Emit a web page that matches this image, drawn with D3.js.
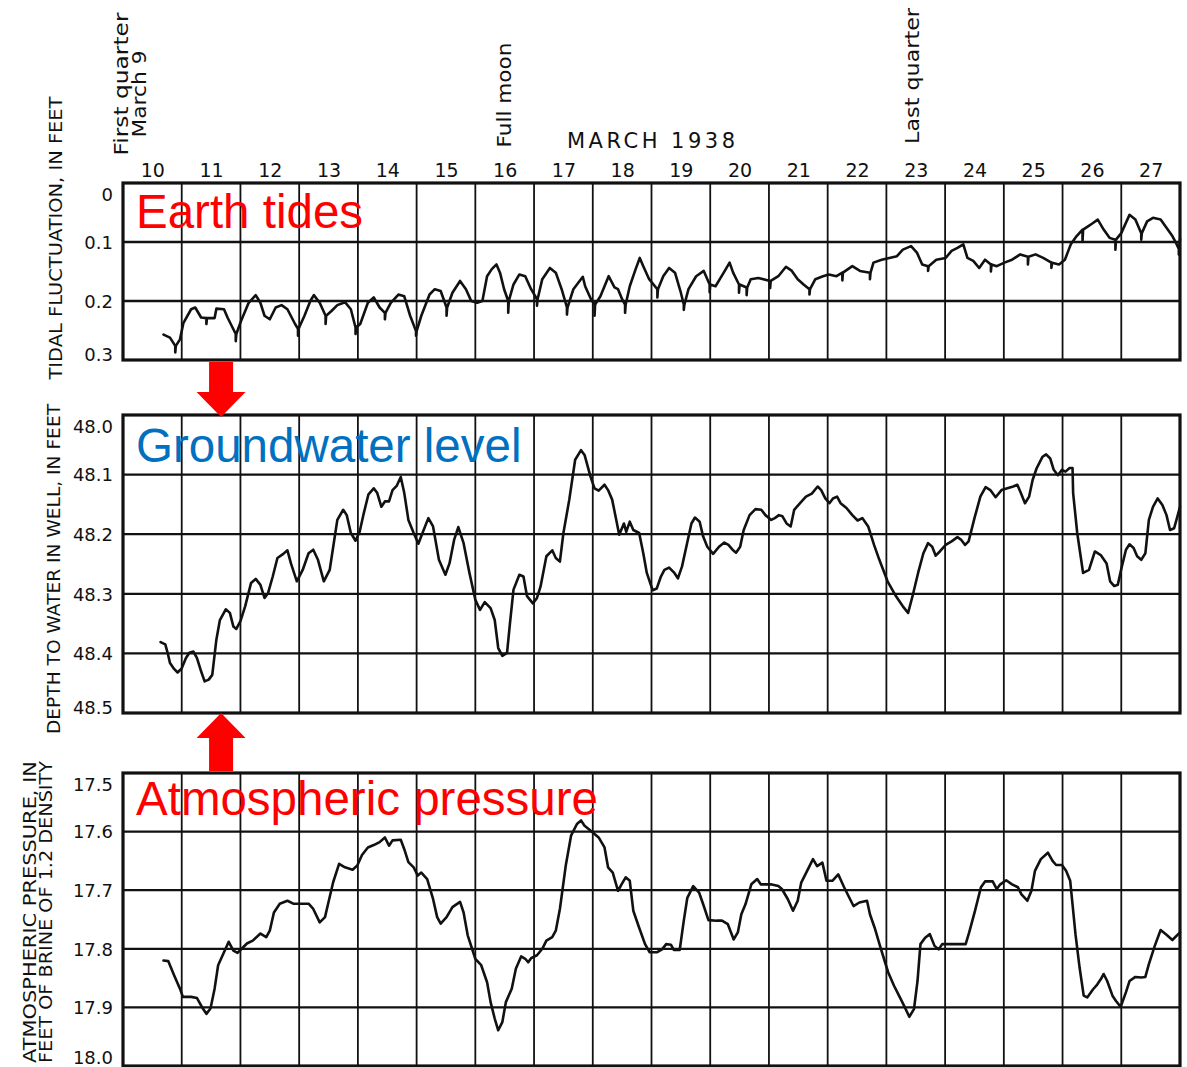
<!DOCTYPE html>
<html>
<head>
<meta charset="utf-8">
<script src="https://cdn.jsdelivr.net/npm/d3@7"></script>
<style>
  html, body { margin: 0; padding: 0; background: #fff; }
  svg { display: block; }
  .num { font-family: "DejaVu Sans", sans-serif; fill: #111; }
  .cap { font-family: "DejaVu Sans", sans-serif; fill: #111; }
  .over { font-family: "Liberation Sans", Arial, sans-serif; }
</style>
</head>
<body>
<script>
// ---- Days of March 1938 shown on the record ----
const days = [10, 11, 12, 13, 14, 15, 16, 17, 18, 19, 20, 21, 22, 23, 24, 25, 26, 27];
const dayLabels = days.map(String);

// ---- Moon phases (day position, text lines) ----
const moonPhases = [
  { day: 10.0, lines: ["First quarter", "March 9"] },
  { day: 16.47, lines: ["Full moon"] },
  { day: 23.45, lines: ["Last quarter"] }
];

// ---- Axis ticks ----
const tideTicks = [0, 0.1, 0.2, 0.3];
const tideTickLabels = ["0", "0.1", "0.2", "0.3"];
const wellTicks = [48.0, 48.1, 48.2, 48.3, 48.4, 48.5];
const wellTickLabels = ["48.0", "48.1", "48.2", "48.3", "48.4", "48.5"];
const pressTicks = [17.5, 17.6, 17.7, 17.8, 17.9, 18.0];
const pressTickLabels = ["17.5", "17.6", "17.7", "17.8", "17.9", "18.0"];

// ---- Tidal fluctuation, feet [day, value] (short vertical strokes are time marks) ----
const tideSeries = [
[10.69,0.257],[10.80,0.262],[10.89,0.276],[10.89,0.287],[10.90,0.276],[10.97,0.265],[11.03,0.237],[11.16,0.214],[11.23,0.211],[11.33,0.228],[11.42,0.229],[11.42,0.239],[11.43,0.229],[11.56,0.229],[11.59,0.213],[11.72,0.214],[11.78,0.228],[11.85,0.242],[11.92,0.256],[11.92,0.268],[11.93,0.256],[12.01,0.234],[12.14,0.203],[12.26,0.190],[12.34,0.203],[12.41,0.225],[12.50,0.231],[12.60,0.211],[12.70,0.207],[12.80,0.214],[12.93,0.239],[12.98,0.247],[12.98,0.259],[12.99,0.247],[13.09,0.225],[13.19,0.200],[13.25,0.190],[13.35,0.203],[13.45,0.225],[13.45,0.239],[13.46,0.225],[13.55,0.217],[13.65,0.207],[13.78,0.202],[13.88,0.214],[13.96,0.245],[13.96,0.256],[13.97,0.245],[14.04,0.239],[14.17,0.203],[14.27,0.194],[14.37,0.211],[14.46,0.220],[14.46,0.231],[14.47,0.220],[14.56,0.203],[14.69,0.189],[14.79,0.192],[14.89,0.225],[14.99,0.251],[14.99,0.259],[15.00,0.251],[15.08,0.225],[15.22,0.189],[15.31,0.180],[15.41,0.183],[15.51,0.211],[15.51,0.225],[15.52,0.211],[15.61,0.186],[15.74,0.166],[15.84,0.180],[15.93,0.200],[16.03,0.203],[16.12,0.200],[16.20,0.158],[16.28,0.146],[16.36,0.138],[16.42,0.152],[16.49,0.180],[16.56,0.200],[16.56,0.220],[16.57,0.200],[16.65,0.172],[16.75,0.155],[16.85,0.158],[16.95,0.180],[17.05,0.197],[17.05,0.208],[17.06,0.197],[17.14,0.163],[17.27,0.144],[17.37,0.152],[17.47,0.180],[17.56,0.211],[17.56,0.223],[17.57,0.211],[17.67,0.180],[17.83,0.159],[17.87,0.175],[17.97,0.197],[18.03,0.206],[18.03,0.225],[18.04,0.206],[18.13,0.192],[18.27,0.158],[18.37,0.177],[18.43,0.180],[18.50,0.197],[18.55,0.206],[18.55,0.220],[18.56,0.206],[18.63,0.175],[18.73,0.146],[18.80,0.127],[18.86,0.141],[18.96,0.163],[19.10,0.180],[19.10,0.194],[19.11,0.180],[19.20,0.158],[19.30,0.144],[19.40,0.152],[19.50,0.186],[19.55,0.206],[19.55,0.215],[19.56,0.206],[19.63,0.180],[19.76,0.158],[19.89,0.149],[19.99,0.172],[19.99,0.185],[20.00,0.172],[20.09,0.175],[20.23,0.152],[20.33,0.135],[20.39,0.152],[20.49,0.172],[20.49,0.186],[20.50,0.172],[20.62,0.177],[20.62,0.190],[20.63,0.177],[20.69,0.163],[20.82,0.161],[21.02,0.166],[21.02,0.178],[21.03,0.166],[21.16,0.158],[21.29,0.142],[21.39,0.149],[21.49,0.163],[21.59,0.172],[21.69,0.180],[21.69,0.189],[21.70,0.180],[21.79,0.163],[21.92,0.158],[22.02,0.155],[22.15,0.158],[22.25,0.152],[22.25,0.165],[22.26,0.152],[22.42,0.141],[22.55,0.149],[22.72,0.152],[22.72,0.163],[22.73,0.152],[22.78,0.135],[22.92,0.130],[23.05,0.127],[23.18,0.124],[23.28,0.113],[23.42,0.107],[23.52,0.118],[23.61,0.138],[23.71,0.141],[23.71,0.149],[23.72,0.141],[23.85,0.130],[24.01,0.127],[24.11,0.115],[24.21,0.110],[24.31,0.104],[24.38,0.127],[24.48,0.132],[24.58,0.144],[24.68,0.130],[24.78,0.138],[24.78,0.150],[24.79,0.138],[24.88,0.141],[25.01,0.135],[25.14,0.130],[25.28,0.121],[25.41,0.125],[25.41,0.138],[25.42,0.125],[25.54,0.121],[25.67,0.127],[25.81,0.135],[25.81,0.144],[25.82,0.135],[25.94,0.138],[26.04,0.130],[26.14,0.104],[26.24,0.090],[26.34,0.079],[26.34,0.099],[26.35,0.079],[26.44,0.073],[26.50,0.069],[26.60,0.062],[26.70,0.079],[26.80,0.093],[26.90,0.096],[26.90,0.113],[26.91,0.096],[27.00,0.085],[27.14,0.054],[27.24,0.062],[27.34,0.085],[27.34,0.096],[27.35,0.085],[27.44,0.065],[27.54,0.059],[27.67,0.062],[27.77,0.076],[27.87,0.090],[27.93,0.101],[27.98,0.112],[27.98,0.121],[28.00,0.095]
];

// ---- Depth to water in well, feet [day, value] ----
const wellSeries = [
[10.64,48.381],[10.72,48.385],[10.76,48.399],[10.80,48.416],[10.87,48.426],[10.93,48.432],[11.00,48.425],[11.07,48.408],[11.13,48.399],[11.20,48.397],[11.26,48.408],[11.33,48.430],[11.39,48.447],[11.46,48.444],[11.52,48.436],[11.59,48.377],[11.65,48.344],[11.75,48.326],[11.82,48.332],[11.88,48.355],[11.93,48.359],[12.00,48.346],[12.08,48.321],[12.18,48.282],[12.26,48.275],[12.34,48.285],[12.41,48.307],[12.47,48.299],[12.55,48.271],[12.63,48.240],[12.73,48.233],[12.80,48.227],[12.86,48.249],[12.96,48.279],[13.06,48.260],[13.16,48.232],[13.24,48.226],[13.32,48.243],[13.42,48.279],[13.52,48.260],[13.58,48.221],[13.65,48.176],[13.75,48.159],[13.81,48.168],[13.88,48.198],[13.96,48.211],[14.03,48.196],[14.10,48.165],[14.18,48.133],[14.27,48.123],[14.33,48.131],[14.40,48.154],[14.46,48.145],[14.53,48.145],[14.59,48.126],[14.66,48.119],[14.73,48.104],[14.79,48.131],[14.86,48.176],[14.95,48.198],[15.03,48.216],[15.12,48.193],[15.20,48.173],[15.28,48.187],[15.38,48.243],[15.49,48.268],[15.56,48.249],[15.64,48.209],[15.71,48.188],[15.80,48.215],[15.90,48.265],[16.00,48.310],[16.08,48.327],[16.16,48.314],[16.26,48.324],[16.33,48.344],[16.39,48.391],[16.46,48.404],[16.54,48.399],[16.59,48.349],[16.65,48.293],[16.75,48.268],[16.82,48.271],[16.88,48.304],[16.98,48.316],[17.05,48.307],[17.11,48.288],[17.21,48.237],[17.31,48.227],[17.37,48.240],[17.44,48.246],[17.50,48.198],[17.60,48.142],[17.70,48.075],[17.80,48.059],[17.86,48.067],[17.96,48.103],[18.03,48.123],[18.10,48.127],[18.20,48.117],[18.26,48.126],[18.33,48.142],[18.40,48.176],[18.45,48.201],[18.53,48.182],[18.57,48.196],[18.63,48.179],[18.69,48.193],[18.79,48.198],[18.86,48.232],[18.92,48.265],[19.02,48.294],[19.09,48.291],[19.16,48.271],[19.22,48.260],[19.30,48.256],[19.39,48.265],[19.45,48.274],[19.52,48.254],[19.62,48.209],[19.68,48.182],[19.74,48.172],[19.82,48.179],[19.88,48.204],[19.95,48.221],[20.05,48.233],[20.15,48.221],[20.24,48.214],[20.31,48.218],[20.38,48.226],[20.44,48.231],[20.51,48.221],[20.57,48.193],[20.67,48.168],[20.77,48.158],[20.87,48.159],[20.94,48.168],[21.04,48.176],[21.10,48.173],[21.17,48.168],[21.23,48.170],[21.30,48.182],[21.37,48.187],[21.43,48.159],[21.53,48.148],[21.63,48.137],[21.73,48.132],[21.83,48.120],[21.89,48.126],[21.96,48.140],[22.03,48.148],[22.09,48.140],[22.16,48.137],[22.22,48.148],[22.32,48.156],[22.42,48.168],[22.51,48.177],[22.59,48.173],[22.69,48.187],[22.79,48.218],[22.88,48.243],[23.02,48.279],[23.15,48.302],[23.28,48.321],[23.37,48.332],[23.45,48.302],[23.54,48.265],[23.63,48.232],[23.71,48.215],[23.78,48.221],[23.84,48.236],[23.91,48.229],[24.01,48.218],[24.11,48.212],[24.21,48.205],[24.27,48.209],[24.34,48.218],[24.40,48.212],[24.50,48.173],[24.60,48.137],[24.69,48.121],[24.77,48.126],[24.86,48.138],[24.96,48.126],[25.06,48.123],[25.16,48.120],[25.23,48.117],[25.29,48.131],[25.36,48.148],[25.43,48.137],[25.49,48.109],[25.56,48.089],[25.66,48.070],[25.72,48.066],[25.79,48.073],[25.85,48.092],[25.92,48.101],[25.99,48.092],[26.05,48.095],[26.12,48.089],[26.17,48.089],[26.18,48.131],[26.25,48.198],[26.35,48.265],[26.45,48.260],[26.55,48.229],[26.65,48.235],[26.75,48.249],[26.81,48.279],[26.88,48.287],[26.94,48.285],[27.01,48.254],[27.08,48.226],[27.14,48.217],[27.21,48.223],[27.27,48.237],[27.34,48.243],[27.41,48.232],[27.47,48.176],[27.54,48.154],[27.62,48.140],[27.70,48.151],[27.77,48.168],[27.83,48.193],[27.90,48.190],[27.97,48.165],[28.00,48.154]
];

// ---- Atmospheric pressure, feet of brine of 1.2 density [day, value] ----
const pressureSeries = [
[10.69,17.820],[10.77,17.821],[10.87,17.845],[10.97,17.868],[11.02,17.882],[11.16,17.882],[11.26,17.884],[11.36,17.902],[11.42,17.911],[11.49,17.902],[11.56,17.868],[11.62,17.828],[11.72,17.806],[11.80,17.788],[11.88,17.803],[11.95,17.807],[12.03,17.799],[12.11,17.791],[12.21,17.786],[12.34,17.774],[12.44,17.780],[12.50,17.769],[12.57,17.738],[12.67,17.723],[12.80,17.718],[12.90,17.723],[13.03,17.723],[13.16,17.723],[13.24,17.732],[13.35,17.755],[13.44,17.746],[13.50,17.720],[13.58,17.686],[13.68,17.655],[13.78,17.661],[13.91,17.665],[13.99,17.658],[14.07,17.640],[14.17,17.627],[14.27,17.623],[14.37,17.618],[14.46,17.610],[14.53,17.624],[14.59,17.615],[14.73,17.614],[14.79,17.630],[14.86,17.652],[14.95,17.661],[15.02,17.675],[15.08,17.670],[15.18,17.681],[15.28,17.715],[15.35,17.746],[15.41,17.757],[15.51,17.746],[15.61,17.729],[15.74,17.720],[15.80,17.738],[15.87,17.777],[16.00,17.817],[16.10,17.828],[16.20,17.857],[16.26,17.891],[16.33,17.919],[16.39,17.939],[16.46,17.925],[16.52,17.891],[16.62,17.868],[16.69,17.834],[16.78,17.813],[16.85,17.817],[16.90,17.823],[16.95,17.816],[17.05,17.811],[17.14,17.800],[17.21,17.786],[17.31,17.780],[17.37,17.769],[17.44,17.732],[17.54,17.658],[17.63,17.607],[17.73,17.587],[17.80,17.581],[17.86,17.590],[17.96,17.598],[18.10,17.610],[18.20,17.627],[18.26,17.661],[18.34,17.670],[18.43,17.701],[18.49,17.690],[18.56,17.678],[18.63,17.684],[18.69,17.735],[18.79,17.764],[18.89,17.792],[18.97,17.806],[19.09,17.806],[19.18,17.801],[19.25,17.792],[19.33,17.793],[19.38,17.802],[19.48,17.802],[19.55,17.752],[19.61,17.713],[19.71,17.693],[19.81,17.704],[19.88,17.724],[19.97,17.751],[20.11,17.752],[20.20,17.752],[20.30,17.758],[20.40,17.784],[20.47,17.772],[20.53,17.741],[20.60,17.724],[20.70,17.690],[20.80,17.681],[20.86,17.690],[21.03,17.690],[21.16,17.693],[21.22,17.698],[21.32,17.715],[21.41,17.735],[21.49,17.718],[21.55,17.687],[21.65,17.667],[21.75,17.647],[21.82,17.659],[21.91,17.653],[21.98,17.684],[22.08,17.684],[22.18,17.673],[22.28,17.695],[22.38,17.715],[22.44,17.727],[22.54,17.721],[22.67,17.718],[22.72,17.741],[22.80,17.764],[22.90,17.798],[23.03,17.840],[23.13,17.863],[23.23,17.883],[23.30,17.897],[23.39,17.916],[23.47,17.903],[23.53,17.855],[23.58,17.792],[23.66,17.781],[23.74,17.775],[23.82,17.795],[23.89,17.801],[23.95,17.792],[24.12,17.792],[24.35,17.792],[24.41,17.772],[24.51,17.735],[24.61,17.695],[24.68,17.685],[24.81,17.685],[24.88,17.698],[24.94,17.690],[25.04,17.683],[25.14,17.690],[25.24,17.695],[25.30,17.707],[25.40,17.718],[25.47,17.701],[25.53,17.667],[25.63,17.647],[25.75,17.636],[25.83,17.650],[25.89,17.657],[25.99,17.657],[26.06,17.667],[26.13,17.684],[26.17,17.724],[26.22,17.775],[26.29,17.832],[26.36,17.880],[26.42,17.883],[26.52,17.869],[26.59,17.861],[26.65,17.852],[26.70,17.843],[26.76,17.855],[26.85,17.880],[26.91,17.889],[26.99,17.899],[27.08,17.874],[27.14,17.855],[27.24,17.848],[27.34,17.849],[27.41,17.848],[27.47,17.826],[27.57,17.795],[27.67,17.768],[27.77,17.776],[27.87,17.785],[27.97,17.775],[28.00,17.772]
];

// ---- Layout ----
const W = 1187, H = 1067;
const X0 = 123, X1 = 1180;

const svg = d3.select("body").append("svg")
  .attr("width", W).attr("height", H)
  .attr("viewBox", `0 0 ${W} ${H}`);

const x = d3.scaleLinear().domain([10, 28]).range([X0, X1]);

const panels = [
  { top: 183, bottom: 360, domain: [0, 0.3], ticks: tideTicks, labels: tideTickLabels, series: tideSeries,
    title: ["TIDAL FLUCTUATION, IN FEET"], titleX: [62], titleLen: 283, titleY: 238,
    overlay: "Earth tides", overlayColor: "#ff0000", overlayY: 228 },
  { top: 415, bottom: 713, domain: [48.0, 48.5], ticks: wellTicks, labels: wellTickLabels, series: wellSeries,
    title: ["DEPTH TO WATER IN WELL, IN FEET"], titleX: [60], titleLen: 330, titleY: 569,
    overlay: "Groundwater level", overlayColor: "#0070c0", overlayY: 462 },
  { top: 773, bottom: 1066, domain: [17.5, 18.0], ticks: pressTicks, labels: pressTickLabels, series: pressureSeries,
    title: ["ATMOSPHERIC PRESSURE, IN", "FEET OF BRINE OF 1.2 DENSITY"], titleX: [36, 52], titleLen: 302, titleY: 912,
    overlay: "Atmospheric pressure", overlayColor: "#ff0000", overlayY: 815 }
];

panels.forEach(p => {
  const y = d3.scaleLinear().domain(p.domain).range([p.top, p.bottom]);
  p.y = y;
  const g = svg.append("g");

  // horizontal grid lines
  g.append("g").selectAll("line").data(p.ticks.slice(1, -1)).join("line")
    .attr("x1", X0).attr("x2", X1)
    .attr("y1", d => y(d)).attr("y2", d => y(d))
    .attr("stroke", "#111").attr("stroke-width", 2.3);

  // day boundary lines
  g.append("g").selectAll("line").data(days.slice(1)).join("line")
    .attr("x1", d => x(d)).attr("x2", d => x(d))
    .attr("y1", p.top).attr("y2", p.bottom)
    .attr("stroke", "#111").attr("stroke-width", 1.8);

  // frame
  g.append("rect")
    .attr("x", X0).attr("y", p.top)
    .attr("width", X1 - X0).attr("height", p.bottom - p.top)
    .attr("fill", "none").attr("stroke", "#111").attr("stroke-width", 3.2);

  // value axis labels
  const ax = g.append("g").attr("transform", `translate(${X0},0)`)
    .call(d3.axisLeft(y).tickValues(p.ticks).tickSize(0).tickPadding(10)
      .tickFormat((d, i) => p.labels[i]));
  ax.select(".domain").remove();
  const last = p.ticks.length - 1;
  ax.selectAll("text")
    .attr("class", "num")
    .attr("font-size", 18)
    .attr("font-family", null)
    .attr("dy", (d, i) => i === 0 ? "0.95em" : (i === last ? (p.bottom > H - 5 ? "-0.12em" : "0.05em") : "0.35em"));

  // rotated axis title
  p.title.forEach((t, i) => {
    g.append("text")
      .attr("class", "cap")
      .attr("transform", `translate(${p.titleX[i]},${p.titleY}) rotate(-90)`)
      .attr("text-anchor", "middle")
      .attr("font-size", 18)
      .attr("textLength", p.titleLen)
      .attr("lengthAdjust", "spacingAndGlyphs")
      .text(t);
  });

  // recorded trace
  const line = d3.line().x(d => x(d[0])).y(d => y(d[1]));
  g.append("path")
    .datum(p.series)
    .attr("d", line)
    .attr("fill", "none")
    .attr("stroke", "#111")
    .attr("stroke-width", 2.6)
    .attr("stroke-linejoin", "round")
    .attr("stroke-linecap", "round");

  // series caption
  g.append("text")
    .attr("class", "over")
    .attr("x", X0 + 13).attr("y", p.overlayY)
    .attr("font-size", 47.5)
    .attr("fill", p.overlayColor)
    .text(p.overlay);
});

// ---- Day labels across the top ----
const dayAxis = svg.append("g").attr("transform", "translate(0,177)")
  .call(d3.axisTop(x).tickValues(days.map(d => d + 0.5)).tickSize(0).tickPadding(0)
    .tickFormat((d, i) => dayLabels[i]));
dayAxis.select(".domain").remove();
dayAxis.selectAll("text").attr("class", "num").attr("font-family", null).attr("font-size", 19).attr("dy", 0);

svg.append("text")
  .attr("class", "cap")
  .attr("x", 567).attr("y", 148)
  .attr("font-size", 21)
  .attr("textLength", 168)
  .attr("lengthAdjust", "spacing")
  .text("MARCH 1938");

// ---- Moon phase notes ----
const phaseLayout = [
  [{ dx: 5, cy: 84, len: 143 }, { dx: 23, cy: 94, len: 87 }],
  [{ dx: 8, cy: 95, len: 105 }],
  [{ dx: 6, cy: 76, len: 136 }]
];
moonPhases.forEach((m, k) => {
  m.lines.forEach((t, i) => {
    const L = phaseLayout[k][i];
    svg.append("text")
      .attr("class", "cap")
      .attr("transform", `translate(${x(m.day) + L.dx},${L.cy}) rotate(-90)`)
      .attr("text-anchor", "middle")
      .attr("font-size", 19)
      .attr("textLength", L.len)
      .attr("lengthAdjust", "spacingAndGlyphs")
      .text(t);
  });
});

// ---- Arrows linking the forcing traces to the well record ----
const arrowDay = 11.67;
function arrow(xc, yFrom, yTo) {
  const dir = Math.sign(yTo - yFrom);
  const headLen = 25, shaftHalf = 12, headHalf = 24.5;
  const yBase = yTo - dir * headLen;
  const pts = [
    [xc - shaftHalf, yFrom], [xc + shaftHalf, yFrom], [xc + shaftHalf, yBase],
    [xc + headHalf, yBase], [xc, yTo], [xc - headHalf, yBase], [xc - shaftHalf, yBase]
  ];
  svg.append("polygon")
    .attr("points", pts.map(q => q.join(",")).join(" "))
    .attr("fill", "#ff0000");
}
arrow(x(arrowDay), panels[0].bottom + 2, panels[1].top + 2);
arrow(x(arrowDay), panels[2].top - 2, panels[1].bottom);
</script>
</body>
</html>
